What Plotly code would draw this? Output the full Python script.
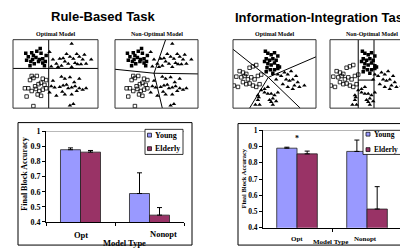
import plotly.graph_objects as go

W, H = 400, 252
SERIF = "Liberation Serif, Times New Roman, serif"
SANS = "Liberation Sans, Arial, sans-serif"

# ---------------- bar chart data ----------------
categories = ["Opt", "Nonopt"]
groups = ["Young", "Elderly"]
rule_young = [0.878, 0.588]
rule_young_err = [0.012, 0.137]
rule_elderly = [0.862, 0.445]
rule_elderly_err = [0.011, 0.050]
info_young = [0.890, 0.870]
info_young_err = [0.006, 0.070]
info_elderly = [0.855, 0.515]
info_elderly_err = [0.017, 0.138]
y_tick_vals = [0.4, 0.5, 0.6, 0.7, 0.8, 0.9, 1.0]
y_tick_text = ["0.4", "0.5", "0.6", "0.7", "0.8", "0.9", "1"]
group_colors = ["#9999FF", "#993366"]

# ---------------- stimulus scatter data (normalized 0-100 space) ----------------
rule_sqf_x = [15, 22, 32, 24, 27, 31, 35, 39, 21, 25, 30, 35, 23, 18, 28, 33, 38, 16, 37, 20]
rule_sqf_y = [80, 81, 87, 77, 74, 71, 72, 77, 68, 65, 68, 66, 71, 75, 83, 80, 68, 70, 62, 62]
rule_sqo_x = [22, 24, 20, 28, 35, 39, 33, 37, 14, 18, 22, 27, 31, 35, 39, 29, 33, 16, 24, 30, 26]
rule_sqo_y = [47, 44, 41, 47, 43, 41, 37, 34, 29, 29, 25, 28, 25, 27, 29, 20, 18, 17, 3, 35, 32]
rule_tri_x = [69, 43, 55, 59, 63, 67, 71, 75, 78, 82, 92, 47, 51, 61, 65, 73, 76, 80, 86, 45, 53, 69, 57, 84,
              57, 61, 67, 78, 45, 49, 55, 59, 63, 65, 69, 73, 75, 78, 82, 86, 43, 51, 61, 69, 67, 71, 47, 72, 58]
rule_tri_y = [94, 82, 72, 73, 79, 75, 72, 79, 75, 71, 71, 71, 65, 68, 65, 66, 64, 64, 65, 61, 60, 60, 62, 78,
              46, 43, 45, 43, 32, 30, 31, 33, 34, 29, 30, 32, 25, 29, 27, 29, 23, 18, 20, 20, 4, 6, 40, 38, 24]

info_sqf_x = [39, 42, 46, 50, 54, 40, 44, 48, 52, 38, 42, 46, 50, 54, 41, 45, 50, 54, 56, 48, 40]
info_sqf_y = [83, 80, 78, 81, 76, 72, 70, 72, 70, 68, 65, 63, 66, 62, 59, 56, 56, 58, 60, 51, 53]
info_sqo_x = [8, 12, 20, 24, 28, 4, 10, 14, 18, 22, 26, 30, 34, 12, 16, 20, 24, 28, 32, 1, 6, 16]
info_sqo_y = [54, 52, 59, 61, 63, 46, 45, 47, 42, 45, 42, 47, 49, 38, 35, 36, 33, 31, 35, 33, 31, 50]
info_tri_x = [54, 58, 62, 66, 70, 64, 68, 72, 76, 78, 74, 80, 86, 60, 66, 72, 52,
              34, 38, 42, 46, 50, 54, 30, 30, 31, 48, 46, 48, 27, 32, 38, 42, 44, 52]
info_tri_y = [49, 47, 52, 49, 54, 42, 40, 42, 47, 38, 33, 31, 33, 35, 31, 28, 42,
              26, 23, 21, 21, 19, 23, 19, 12, 16, 14, 9, 5, 5, 5, 28, 31, 12, 10]

# decision boundaries (segments separated by None)
rule_opt_bx = [42, 42, None, 0, 100]
rule_opt_by = [0, 100, None, 58, 58]
rule_non_bx = [-2, 47, 100, None, 47, 61, None, 47, 57]
rule_non_by = [57, 51, 50, None, 51, 100, None, 51, 0]
info_opt_bx = [0, 42.5, 100, None, 42.5, 20, None, 42.5, 81]
info_opt_by = [86, 45, 75, None, 45, 0, None, 45, 0]
info_non_bx = [34, 34, None, 53, 53, None, 34, 53]
info_non_by = [0, 100, None, 0, 100, None, 41, 41]


def px(x):
    return x / W


def py(y):
    return 1 - y / H


fig = go.Figure()

# ---------------- scatter panels ----------------
panels = [
    ("1", rule_sqf_x, rule_sqf_y, rule_sqo_x, rule_sqo_y, rule_tri_x, rule_tri_y, rule_opt_bx, rule_opt_by),
    ("2", rule_sqf_x, rule_sqf_y, rule_sqo_x, rule_sqo_y, rule_tri_x, rule_tri_y, rule_non_bx, rule_non_by),
    ("3", info_sqf_x, info_sqf_y, info_sqo_x, info_sqo_y, info_tri_x, info_tri_y, info_opt_bx, info_opt_by),
    ("4", info_sqf_x, info_sqf_y, info_sqo_x, info_sqo_y, info_tri_x, info_tri_y, info_non_bx, info_non_by),
]
for k, fx, fy, ox, oy, tx, ty, bx, by in panels:
    xa, ya = "x" + k, "y" + k
    fig.add_trace(go.Scatter(x=bx, y=by, mode="lines", line=dict(color="black", width=1),
                             xaxis=xa, yaxis=ya, showlegend=False, hoverinfo="skip"))
    fig.add_trace(go.Scatter(x=fx, y=fy, mode="markers", xaxis=xa, yaxis=ya, showlegend=False,
                             marker=dict(symbol="square", size=3.5, color="black", line=dict(width=0))))
    fig.add_trace(go.Scatter(x=ox, y=oy, mode="markers", xaxis=xa, yaxis=ya, showlegend=False,
                             marker=dict(symbol="square-open", size=3.5, color="black", line=dict(width=0.8))))
    fig.add_trace(go.Scatter(x=tx, y=ty, mode="markers", xaxis=xa, yaxis=ya, showlegend=False,
                             marker=dict(symbol="triangle-up", size=4, color="black", line=dict(width=0))))

# ---------------- bar charts ----------------
bar_sets = [
    ("5", [rule_young, rule_elderly], [rule_young_err, rule_elderly_err]),
    ("6", [info_young, info_elderly], [info_young_err, info_elderly_err]),
]
for k, vals, errs in bar_sets:
    for g, v, e, c in zip(groups, vals, errs, group_colors):
        fig.add_trace(go.Bar(
            x=categories, y=v, name=g, xaxis="x" + k, yaxis="y" + k, showlegend=False,
            marker=dict(color=c, line=dict(color="#222", width=0.8)),
            error_y=dict(type="data", symmetric=False, array=e, arrayminus=[0] * len(e),
                         color="black", thickness=1, width=2.5)))

hidden = dict(range=[0, 100], showgrid=False, zeroline=False, showticklabels=False,
              ticks="", showline=False)
layout = dict(
    width=W, height=H, margin=dict(l=0, r=0, t=0, b=0),
    paper_bgcolor="white", plot_bgcolor="rgba(0,0,0,0)",
    barmode="group", bargap=0.42, bargroupgap=0,
)
for k, (a, b) in zip("1234", [(13, 98), (115, 198), (233, 316), (330, 400)]):
    xk = "xaxis" if k == "1" else "xaxis" + k
    yk = "yaxis" if k == "1" else "yaxis" + k
    xr = [0, 84.3] if k == "4" else [0, 100]
    layout[xk] = dict(domain=[px(a), px(b)], anchor="y" + ("" if k == "1" else k),
                      **{**hidden, "range": xr})
    layout[yk] = dict(domain=[py(108), py(37)], anchor="x" + ("" if k == "1" else k), **hidden)

for k, xd, yd, xr, fs in [("5", [46, 184], [226, 132], [-0.5, 1.5], 8),
                          ("6", [263, 400], [232, 131], [-0.486, 1.471], 7.5)]:
    layout["xaxis" + k] = dict(domain=[px(xd[0]), min(1, px(xd[1]))], type="category", anchor="y" + k,
                               range=xr, showline=True, linecolor="black", linewidth=1,
                               ticks="outside", tickson="boundaries", ticklen=3, tickcolor="black",
                               showticklabels=False, showgrid=False, zeroline=False)
    layout["yaxis" + k] = dict(domain=[py(yd[0]), py(yd[1])], range=[0.4, 1.0], anchor="x" + k,
                               showline=True, linecolor="black", linewidth=1,
                               ticks="outside", ticklen=3, tickcolor="black",
                               tickvals=y_tick_vals, ticktext=y_tick_text,
                               tickfont=dict(family=SERIF, size=fs, color="black", weight="bold"),
                               showgrid=False, zeroline=False)
fig.update_layout(**layout)

shapes = []
# scatter panel boxes
for x0, x1 in [(13, 98), (115, 198), (233, 316), (330, 413)]:
    shapes.append(dict(type="rect", xref="paper", yref="paper", x0=px(x0), x1=px(x1),
                       y0=py(108), y1=py(37), line=dict(color="#333", width=1)))
# bar chart frames
shapes.append(dict(type="rect", xref="paper", yref="paper", x0=px(18), x1=px(192),
                   y0=py(250), y1=py(123), line=dict(color="black", width=1)))
shapes.append(dict(type="rect", xref="paper", yref="paper", x0=px(238), x1=px(430),
                   y0=py(250), y1=py(124), line=dict(color="black", width=1)))
# top line at 1.0
for k in ["5", "6"]:
    shapes.append(dict(type="line", xref="x%s domain" % k, yref="y" + k, x0=0, x1=1, y0=1, y1=1,
                       line=dict(color="#888", width=1)))
# manual legends
legend_specs = [(145, 183, 130, 156, 147.5, [136, 150], 153, 8),
                (363, 430, 131, 156, 366, [135, 151], 372, 7.5)]
annotations = []
for bx0, bx1, by0, by1, sx, sys_, tx, fs in legend_specs:
    shapes.append(dict(type="rect", xref="paper", yref="paper", x0=px(bx0), x1=px(bx1),
                       y0=py(by1), y1=py(by0), line=dict(color="black", width=0.8),
                       fillcolor="white"))
    for g, c, sy in zip(groups, group_colors, sys_):
        shapes.append(dict(type="rect", xref="paper", yref="paper", x0=px(sx), x1=px(sx + 4),
                           y0=py(sy + 2), y1=py(sy - 2), line=dict(color="black", width=0.7),
                           fillcolor=c))
        annotations.append(dict(text=g, xref="paper", yref="paper", x=px(tx), y=py(sy),
                                xanchor="left", yanchor="middle", showarrow=False,
                                font=dict(family=SERIF, size=fs, color="black", weight="bold")))


def ann(text, x, y, size, family=SERIF, xanchor="center", angle=0):
    annotations.append(dict(text=text, xref="paper", yref="paper", x=px(x), y=py(y),
                            xanchor=xanchor, yanchor="middle", showarrow=False, textangle=angle,
                            font=dict(family=family, size=size, color="black", weight="bold")))


ann("Rule-Based Task", 103, 13, 13, SANS)
ann("Information-Integration Task", 233, 14, 13, SANS, xanchor="left")
ann("Optimal Model", 55, 31, 6)
ann("Non-Optimal Model", 157, 31, 6)
ann("Optimal Model", 274, 31, 6)
ann("Non-Optimal Model", 372, 31, 6)
ann("Final Block Accuracy", 25, 177, 8, angle=-90)
ann("Final Block Accuracy", 244, 181, 6.5, angle=-90)
ann("Model Type", 124, 247.5, 8.5)
ann("Model Type", 330, 246.5, 7)

# category labels placed on the category axes
for k, ys, shifts, fs in [("5", [240, 238.5], [0, 14], 8.5), ("6", [243.5, 243.5], [0, -2], 7)]:
    for cat, yy, sh in zip(categories, ys, shifts):
        annotations.append(dict(text=cat, xref="x" + k, yref="paper", x=cat, y=py(yy), xshift=sh,
                                showarrow=False, yanchor="middle",
                                font=dict(family=SERIF, size=fs, color="black", weight="bold")))
# significance asterisk
annotations.append(dict(text="*", xref="x6", yref="y6", x=categories[0], y=0.95, showarrow=False,
                        font=dict(family=SERIF, size=8, color="black", weight="bold")))

fig.update_layout(shapes=shapes, annotations=annotations)
fig.write_html("out.html", config={"displayModeBar": False},
               post_script="document.body.style.margin='0';")
